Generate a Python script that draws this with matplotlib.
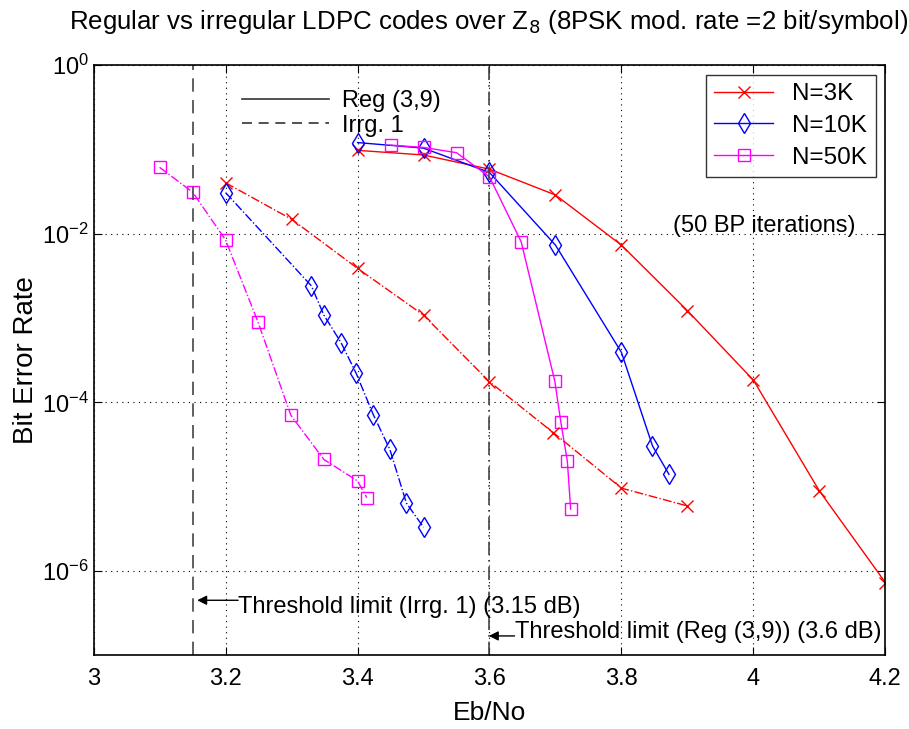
import numpy as np
import matplotlib
matplotlib.use('Agg')
import matplotlib.pyplot as plt
from matplotlib.lines import Line2D

plt.rcParams['font.family'] = ['Liberation Sans', 'DejaVu Sans']

# regular (3,9) code
reg_3k_x = [3.4, 3.5, 3.6, 3.7, 3.8, 3.9, 4.0, 4.1, 4.2]
reg_3k_y = [0.097, 0.0855, 0.058, 0.0287, 0.0073, 0.00122, 1.83e-4, 8.9e-6, 7.3e-7]
reg_10k_x = [3.4, 3.5, 3.6, 3.7, 3.8, 3.847, 3.872]
reg_10k_y = [0.12, 0.103, 0.053, 0.0073, 3.9e-4, 3.05e-5, 1.4e-5]
reg_50k_x = [3.45, 3.5, 3.55, 3.6, 3.648, 3.699, 3.708, 3.718, 3.723]
reg_50k_y = [0.112, 0.105, 0.091, 0.047, 0.008, 1.78e-4, 5.9e-5, 2.0e-5, 5.4e-6]

# irregular code
irr_3k_x = [3.2, 3.3, 3.4, 3.5, 3.6, 3.697, 3.8, 3.9]
irr_3k_y = [0.040, 0.0148, 0.00387, 0.00108, 1.75e-4, 4.35e-5, 9.6e-6, 5.9e-6]
irr_10k_x = [3.2, 3.33, 3.349, 3.375, 3.398, 3.424, 3.449, 3.474, 3.5]
irr_10k_y = [0.0306, 0.0024, 0.00108, 5.1e-4, 2.2e-4, 7.1e-5, 2.76e-5, 6.4e-6, 3.3e-6]
irr_50k_x = [3.1, 3.15, 3.2, 3.249, 3.299, 3.349, 3.4, 3.414]
irr_50k_y = [0.061, 0.031, 0.0084, 9.0e-4, 7.0e-5, 2.1e-5, 1.17e-5, 7.4e-6]

thr_irr = 3.15
thr_reg = 3.6

fig = plt.figure(figsize=(9.09, 7.29), dpi=100)
ax = fig.add_axes([0.103, 0.101, 0.871, 0.81])

ms = 8
ax.semilogy(reg_3k_x, reg_3k_y, '-x', color='red', lw=1, ms=ms, mfc='none', label='N=3K')
ax.semilogy(reg_10k_x, reg_10k_y, '-d', color='blue', lw=1, ms=ms + 2, mfc='none', label='N=10K')
ax.semilogy(reg_50k_x, reg_50k_y, '-s', color='magenta', lw=1, ms=ms, mfc='none', label='N=50K')

ax.semilogy(irr_3k_x, irr_3k_y, '-.x', color='red', lw=1, ms=ms, mfc='none')
ax.semilogy(irr_10k_x, irr_10k_y, '-.d', color='blue', lw=1, ms=ms + 2, mfc='none')
ax.semilogy(irr_50k_x, irr_50k_y, '-.s', color='magenta', lw=1, ms=ms, mfc='none')

ax.axvline(thr_irr, color='#444444', ls=(0, (8, 5)), lw=1.2)
ax.axvline(thr_reg, color='#444444', ls=(0, (8, 3, 1, 3)), lw=1.2)

ax.set_xlim(3, 4.2)
ax.set_ylim(1e-7, 1)
ax.set_xticks([3, 3.2, 3.4, 3.6, 3.8, 4, 4.2])
ax.set_xticklabels(['3', '3.2', '3.4', '3.6', '3.8', '4', '4.2'])
ax.set_yticks([1e-6, 1e-4, 1e-2, 1])
ax.minorticks_off()
ax.tick_params(direction='in', top=True, right=True, labelsize=17, length=6)
ax.tick_params(axis='x', pad=9)
ax.grid(True, which='major', ls=(0, (1, 4)), color='k', lw=0.8)
for s in ax.spines.values():
    s.set_linewidth(1.2)

ax.set_xlabel('Eb/No', fontsize=19, labelpad=8)
ax.set_ylabel('Bit Error Rate', fontsize=20, labelpad=2)
fig.text(0.538, 1 - 22 / 729,
         'Regular vs irregular LDPC codes over Z$_8$ (8PSK mod. rate =2 bit/symbol)',
         fontsize=18.6, ha='center', va='center')

leg1 = ax.legend(loc='upper right', fontsize=17.5, frameon=True, fancybox=False,
                 edgecolor='k', handlelength=2.4, borderpad=0.35, labelspacing=0.4,
                 borderaxespad=0.4)
leg1.get_frame().set_linewidth(1.0)
ax.add_artist(leg1)

style_handles = [Line2D([], [], color='#333333', lw=1.2, ls='-'),
                 Line2D([], [], color='#333333', lw=1.2, ls=(0, (6, 4)))]
ax.legend(style_handles, ['Reg (3,9)', 'Irrg. 1'], loc='upper left',
          bbox_to_anchor=(0.1875, 0.957), frameon=False, fontsize=17,
          handlelength=3.7, labelspacing=0.1, handletextpad=0.55,
          borderpad=0, borderaxespad=0)

ax.text(4.017, 0.0123, '(50 BP iterations)', fontsize=17, ha='center', va='center')

ax.annotate('', xy=(3.157, 4.5e-7), xytext=(3.219, 4.5e-7),
            arrowprops=dict(arrowstyle='-|>', color='k', lw=1, mutation_scale=14,
                            shrinkA=0, shrinkB=0))
ax.text(3.219, 3.7e-7, 'Threshold limit (Irrg. 1) (3.15 dB)', fontsize=17,
        va='center', ha='left')
ax.annotate('', xy=(3.599, 1.7e-7), xytext=(3.638, 1.7e-7),
            arrowprops=dict(arrowstyle='-|>', color='k', lw=1, mutation_scale=14,
                            shrinkA=0, shrinkB=0))
ax.text(3.638, 1.88e-7, 'Threshold limit (Reg (3,9)) (3.6 dB)', fontsize=17,
        va='center', ha='left')

fig.savefig('out.png', dpi=100)
